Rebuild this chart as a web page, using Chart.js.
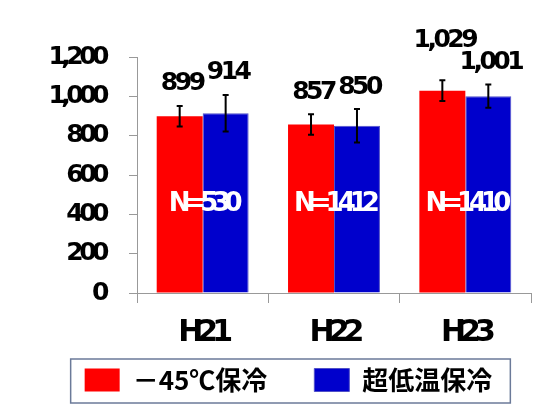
<!DOCTYPE html>
<html>
<head>
<meta charset="utf-8">
<script src="https://cdn.jsdelivr.net/npm/chart.js@4.4.0/dist/chart.umd.min.js"></script>
<style>
  html, body { margin: 0; padding: 0; background: #fff; }
  #wrap { width: 539px; height: 415px; }
</style>
</head>
<body>
<div id="wrap"><canvas id="chart"></canvas></div>
<script>
/* --- data --- */
const years = ['H21', 'H22', 'H23'];
const seriesNames = ['－45℃保冷', '超低温保冷'];
const coldValues = [899, 857, 1029];
const ultraValues = [914, 850, 1001];
const coldErr = [52, 52, 53];
const ultraErr = [93, 85, 59];
const nCounts = [530, 1412, 1410];
const yTicks = [0, 200, 400, 600, 800, 1000, 1200];

const numFont = '"DejaVu Sans", sans-serif';
const jpFont = '"Noto Sans CJK JP", sans-serif';

// tight letter spacing for the bold number texts
function spaced(obj, method, spacing) {
  if (!obj || obj['_sp_' + method]) return;
  const orig = obj[method].bind(obj);
  obj[method] = function (...args) {
    const ctx = this.ctx;
    ctx.save();
    ctx.letterSpacing = spacing;
    orig(...args);
    ctx.restore();
  };
  obj['_sp_' + method] = true;
}

/* --- error bars, value labels, N labels --- */
const barExtras = {
  id: 'barExtras',
  beforeDraw(chart) {
    spaced(chart.scales.x, 'drawLabels', '-6px');
    spaced(chart.scales.y, 'drawLabels', '-4.5px');
  },
  afterDatasetsDraw(chart) {
    const ctx = chart.ctx;
    const y = chart.scales.y;
    const errs = [coldErr, ultraErr];
    ctx.save();
    ctx.strokeStyle = '#000';
    ctx.lineWidth = 2;
    const labels = [];
    chart.data.datasets.forEach((ds, di) => {
      chart.getDatasetMeta(di).data.forEach((bar, i) => {
        const v = ds.data[i], e = errs[di][i];
        const top = y.getPixelForValue(v + e);
        const bot = y.getPixelForValue(v - e);
        ctx.beginPath();
        ctx.moveTo(bar.x, top); ctx.lineTo(bar.x, bot);
        ctx.moveTo(bar.x - 3, top); ctx.lineTo(bar.x + 3, top);
        ctx.moveTo(bar.x - 3, bot); ctx.lineTo(bar.x + 3, bot);
        ctx.stroke();
        labels[i] = labels[i] || [];
        labels[i][di] = { x: bar.x, y: top - 22, text: v.toLocaleString('en-US') };
      });
    });

    // value labels, lift the left one if the pair would collide
    ctx.font = 'bold 25px ' + numFont;
    ctx.letterSpacing = '-3.5px';
    ctx.textAlign = 'center';
    ctx.textBaseline = 'middle';
    ctx.fillStyle = '#000';
    labels.forEach(pair => {
      const [a, b] = pair;
      const wa = ctx.measureText(a.text).width, wb = ctx.measureText(b.text).width;
      if (a.x + wa / 2 > b.x - wb / 2 - 2 && Math.abs(a.y - b.y) < 23) {
        a.y = b.y - 22;
      }
      pair.forEach(l => ctx.fillText(l.text, l.x + 2, l.y));
    });

    // N= labels across each pair of bars
    ctx.font = 'bold 26px ' + numFont;
    ctx.letterSpacing = '-6px';
    ctx.fillStyle = '#fff';
    const m0 = chart.getDatasetMeta(0).data, m1 = chart.getDatasetMeta(1).data;
    nCounts.forEach((n, i) => {
      const cx = (m0[i].x + m1[i].x) / 2;
      ctx.fillText('N=' + n, cx, y.getPixelForValue(450));
    });
    ctx.restore();
  }
};

/* --- legend position + frame --- */
const legendFrame = {
  id: 'legendFrame',
  afterLayout(chart) {
    const lg = chart.legend;
    lg.left += 23; lg.right += 23;
    lg.top -= 31; lg.bottom -= 31;
  },
  afterDraw(chart) {
    const hb = chart.legend.legendHitBoxes;
    if (!hb || !hb.length) return;
    const first = hb[0], last = hb[hb.length - 1];
    const ctx = chart.ctx;
    ctx.save();
    ctx.strokeStyle = '#6b7a99';
    ctx.lineWidth = 1.5;
    const x0 = first.left - 14, x1 = last.left + last.width + 18;
    ctx.strokeRect(x0, first.top - 8, x1 - x0, first.height + 18);
    ctx.restore();
  }
};

new Chart(document.getElementById('chart').getContext('2d'), {
  type: 'bar',
  data: {
    labels: years,
    datasets: [
      { label: seriesNames[0], data: coldValues, backgroundColor: '#ff0000', borderWidth: 0 },
      { label: seriesNames[1], data: ultraValues, backgroundColor: '#0000cc', borderColor: '#5050c8', borderWidth: 1 }
    ]
  },
  options: {
    responsive: true,
    maintainAspectRatio: false,
    animation: false,
    layout: { padding: { top: 57, right: 8, left: 0, bottom: -19 } },
    datasets: { bar: { categoryPercentage: 0.7, barPercentage: 1.0 } },
    plugins: {
      legend: {
        position: 'bottom',
        labels: {
          boxWidth: 35, boxHeight: 23, padding: 47, color: '#000',
          font: { family: jpFont, size: 26, weight: 'bold' }
        }
      },
      tooltip: { enabled: false }
    },
    scales: {
      x: {
        grid: { offset: true, drawOnChartArea: false, tickLength: 10, color: '#999' },
        border: { color: '#999' },
        ticks: { color: '#000', padding: 12, font: { family: numFont, size: 30, weight: 'bold' } },
        afterFit: s => { s.height = 58; }
      },
      y: {
        min: 0, max: 1200,
        afterBuildTicks: s => { s.ticks = yTicks.map(v => ({ value: v })); },
        grid: { drawOnChartArea: false, tickLength: 8, color: '#999' },
        border: { color: '#999' },
        ticks: {
          color: '#000', padding: 24,
          font: { family: numFont, size: 25, weight: 'bold' },
          callback: v => v.toLocaleString('en-US')
        },
        afterFit: s => { s.width = 137; }
      }
    }
  },
  plugins: [barExtras, legendFrame]
});
</script>
</body>
</html>
